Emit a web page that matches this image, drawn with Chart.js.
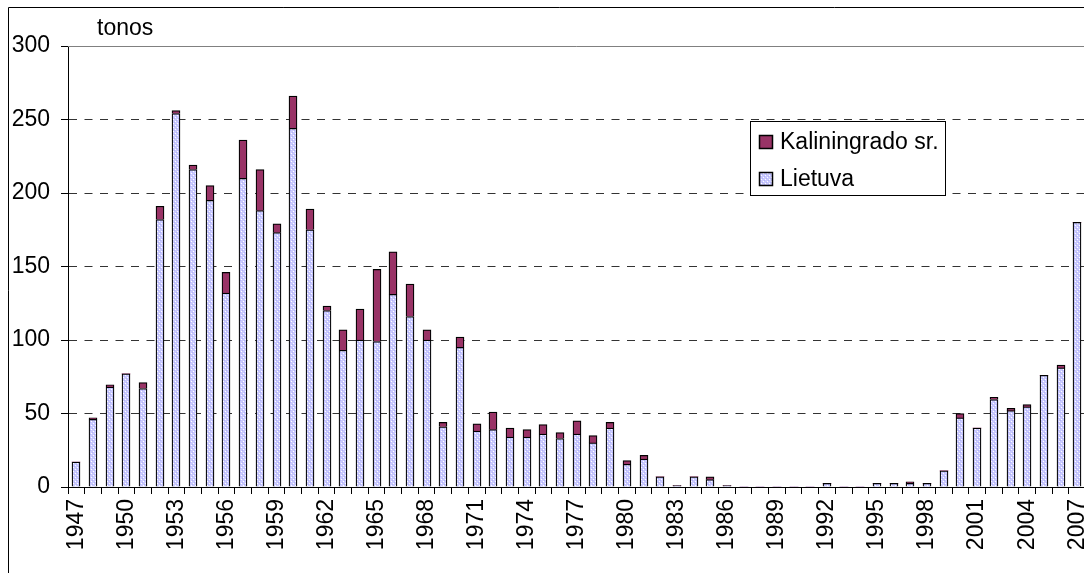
<!DOCTYPE html>
<html>
<head>
<meta charset="utf-8">
<script src="https://cdn.jsdelivr.net/npm/chart.js@4.4.1/dist/chart.umd.min.js"></script>
<style>
  html, body { margin: 0; padding: 0; background: #fff; }
  #wrap { width: 1084px; height: 573px; overflow: hidden; position: relative; }
  #catch { position: absolute; left: 0; top: 0; }
</style>
</head>
<body>
<div id="wrap"><canvas id="catch" width="1110" height="573"></canvas></div>
<script>
const years = [
  '1947', '1948', '1949', '1950', '1951', '1952', '1953', '1954', '1955', '1956',
  '1957', '1958', '1959', '1960', '1961', '1962', '1963', '1964', '1965', '1966',
  '1967', '1968', '1969', '1970', '1971', '1972', '1973', '1974', '1975', '1976',
  '1977', '1978', '1979', '1980', '1981', '1982', '1983', '1984', '1985', '1986',
  '1987', '1988', '1989', '1990', '1991', '1992', '1993', '1994', '1995', '1996',
  '1997', '1998', '1999', '2000', '2001', '2002', '2003', '2004', '2005', '2006',
  '2007'
];

// tonos per year
const lietuva = [
  17, 46, 68, 77, 67, 182, 254, 216, 195, 132,
  210, 188, 173, 244, 175, 120, 93, 100, 99, 131,
  116, 100, 41, 95, 38, 39, 34, 34, 36, 33,
  36, 30, 40, 15.5, 19, 7, 1, 7, 5, 1,
  0, 0, 0, 0, 0, 2.5, 0, 0, 2.5, 2.5,
  2.5, 2.5, 11, 47, 40, 59.5, 52, 54.5, 76, 81,
  180
];

const kaliningradas = [
  0, 1, 1.5, 0, 4, 9, 2, 3, 10, 14,
  26, 28, 6, 22, 14, 3, 14, 21, 49, 29,
  22, 7, 3, 7, 5, 12, 6, 5, 6.5, 4,
  9, 5, 4, 2.5, 2.5, 0, 0, 0, 2, 0,
  0, 0, 0, 0, 0, 0, 0, 0, 0, 0,
  1, 0, 0, 3, 0, 1.5, 1.5, 1.5, 0, 2,
  0
];

const FONT = 'Arial, "Liberation Sans", sans-serif';
const BAR_W = 8;

// light lavender fill with a fine dotted texture
function dotPattern() {
  const c = document.createElement('canvas');
  c.width = 4;
  c.height = 4;
  const g = c.getContext('2d');
  g.fillStyle = '#cacafe';
  g.fillRect(0, 0, 4, 4);
  g.fillStyle = '#b2b2fa';
  g.fillRect(0, 0, 1, 1);
  g.fillRect(2, 2, 1, 1);
  g.fillStyle = '#ffffff';
  g.fillRect(1, 3, 1, 1);
  g.fillRect(3, 1, 1, 1);
  return g.createPattern(c, 'repeat');
}

// keep bar edges on whole pixels so the outlines stay crisp
const snapBars = {
  id: 'snapBars',
  beforeDatasetsDraw(chart) {
    chart.data.datasets.forEach((ds, i) => {
      chart.getDatasetMeta(i).data.forEach((bar) => {
        bar.x = Math.round(bar.x - BAR_W / 2) + BAR_W / 2;
      });
    });
  }
};

const extras = {
  id: 'extras',
  afterDraw(chart) {
    const { ctx, chartArea: a } = chart;
    ctx.save();

    // outer frame
    ctx.strokeStyle = '#000';
    ctx.lineWidth = 1;
    ctx.beginPath();
    ctx.moveTo(8.5, chart.height);
    ctx.lineTo(8.5, 7.5);
    ctx.lineTo(chart.width, 7.5);
    ctx.stroke();

    // top edge of plot area
    const top = Math.round(a.top) + 0.5;
    ctx.strokeStyle = '#808080';
    ctx.beginPath();
    ctx.moveTo(a.left, top);
    ctx.lineTo(a.right, top);
    ctx.stroke();

    ctx.fillStyle = '#000';
    ctx.font = '23px ' + FONT;
    ctx.textBaseline = 'alphabetic';
    ctx.textAlign = 'left';
    ctx.fillText('tonos', 97, 35);

    // legend box
    ctx.fillStyle = '#fff';
    ctx.fillRect(750.5, 121.5, 195, 74);
    ctx.strokeStyle = '#000';
    ctx.strokeRect(750.5, 121.5, 195, 74);

    const items = chart.data.datasets.slice().reverse();
    items.forEach((ds, i) => {
      const y = 135.5 + i * 37;
      ctx.fillStyle = ds.backgroundColor;
      ctx.fillRect(759.5, y, 13, 13);
      ctx.strokeStyle = '#000';
      ctx.lineWidth = 1.5;
      ctx.strokeRect(759.5, y, 13, 13);
      ctx.fillStyle = '#000';
      ctx.fillText(ds.label, 780, y + 13);
    });

    ctx.restore();
  }
};

const edge = (c) => (c.raw ? 1.25 : 0);

new Chart(document.getElementById('catch'), {
  type: 'bar',
  data: {
    labels: years,
    datasets: [{
      label: 'Lietuva',
      data: lietuva,
      backgroundColor: dotPattern(),
      borderColor: '#000',
      borderWidth: edge,
      barThickness: BAR_W
    }, {
      label: 'Kaliningrado sr.',
      data: kaliningradas,
      backgroundColor: '#993366',
      borderColor: '#000',
      borderWidth: edge,
      barThickness: BAR_W
    }]
  },
  options: {
    responsive: false,
    devicePixelRatio: 1,
    animation: false,
    layout: {
      padding: { left: 8, top: 46, right: 20, bottom: 0 }
    },
    plugins: {
      legend: { display: false },
      tooltip: { enabled: false }
    },
    scales: {
      x: {
        stacked: true,
        afterFit: (s) => { s.height = 86; },
        grid: {
          display: true,
          drawOnChartArea: false,
          color: '#000',
          tickColor: '#000',
          tickLength: 7
        },
        border: { color: '#000', width: 1 },
        ticks: {
          autoSkip: false,
          minRotation: 90,
          maxRotation: 90,
          padding: 5,
          color: '#000',
          font: { family: FONT, size: 23 },
          callback: (v, i) => (i % 3 === 0 ? years[i] : '')
        }
      },
      y: {
        stacked: true,
        min: 0,
        max: 300,
        afterFit: (s) => { s.width = 60; },
        grid: {
          color: (c) => (c.tick.value === 0 || c.tick.value === 300 ? 'rgba(0,0,0,0)' : '#333'),
          tickColor: '#000',
          tickLength: 7,
          tickBorderDash: []
        },
        border: { color: '#000', width: 1, dash: [8, 7.5] },
        ticks: {
          stepSize: 50,
          padding: 11,
          color: '#000',
          font: { family: FONT, size: 23 }
        }
      }
    }
  },
  plugins: [snapBars, extras]
});
</script>
</body>
</html>
